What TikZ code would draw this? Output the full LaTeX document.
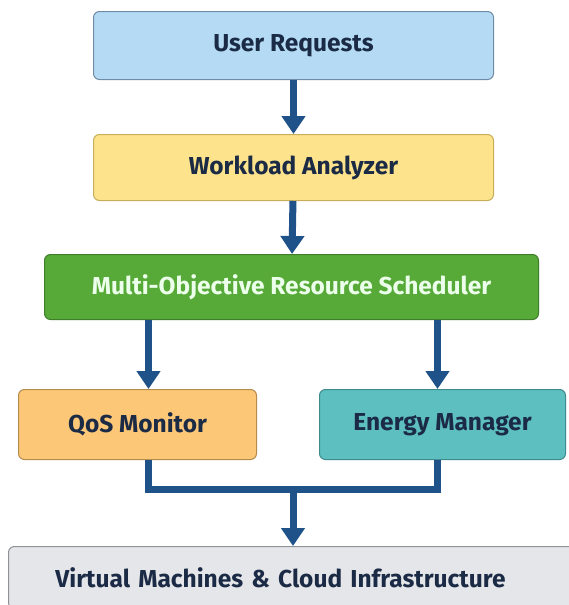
\documentclass[tikz,border=0pt]{standalone}
\usepackage{fontspec}
\setmainfont{Fira Sans}
\usetikzlibrary{arrows.meta,positioning}
\definecolor{ink}{HTML}{1B2B45}
\definecolor{flow}{HTML}{1F5288}
\definecolor{reqfill}{HTML}{B5DBF4}
\definecolor{reqline}{HTML}{6F8CA6}
\definecolor{wlfill}{HTML}{FDE38C}
\definecolor{wlline}{HTML}{C9AE5A}
\definecolor{schfill}{HTML}{58AA38}
\definecolor{schline}{HTML}{3E7D2A}
\definecolor{qosfill}{HTML}{FCC878}
\definecolor{qosline}{HTML}{B68B4E}
\definecolor{enfill}{HTML}{5EBFC0}
\definecolor{enline}{HTML}{3E8A8C}
\definecolor{vmfill}{HTML}{E5E6E9}
\definecolor{vmline}{HTML}{8E9197}
\tikzset{
  box/.style={draw, line width=1pt, rounded corners=6pt, inner sep=0pt,
    font=\fontsize{24.5}{28}\selectfont\bfseries, text=ink, anchor=north west},
  link/.style={draw=flow, line width=7pt},
  arr/.style={link, -{Triangle[width=23pt,length=18pt]}},
}
\begin{document}
\begin{tikzpicture}[x=1pt,y=1pt]
\useasboundingbox (0,-605) rectangle (569,0);
\clip (0,-605) rectangle (569,0);
\fill[white] (0,-605) rectangle (569,0);

\node[box, fill=reqfill, draw=reqline, minimum width=400pt, minimum height=68pt] (req) at (93,-11) {User Requests};
\node[box, fill=wlfill, draw=wlline, minimum width=400pt, minimum height=66pt] (wl) at (93,-134) {Workload Analyzer};
\node[box, fill=schfill, draw=schline, minimum width=494pt, minimum height=65pt, text=white!92!green] (sch) at (44,-254) {Multi-Objective Resource Scheduler};
\node[box, fill=qosfill, draw=qosline, minimum width=238pt, minimum height=70pt] (qos) at (18,-389) {QoS Monitor};
\node[box, fill=enfill, draw=enline, minimum width=246pt, minimum height=70pt] (en) at (319,-389) {Energy Manager};
\node[box, fill=vmfill, draw=vmline, minimum width=600pt, minimum height=62pt, text width=600pt, align=left] (vm) at (8,-546) {\hspace*{47pt}Virtual Machines \& Cloud Infrastructure};

\draw[arr] (req) -- (wl);
\draw[arr] (wl) -- (sch);
\draw[arr] ([xshift=11pt]qos.north |- sch.south) -- ([xshift=11pt]qos.north);
\draw[arr] ([xshift=-5pt]en.north |- sch.south) -- ([xshift=-5pt]en.north);

\coordinate (join) at (293,-489);
\draw[link] ([xshift=11pt]qos.south) |- (join) -| ([xshift=-5pt]en.south);
\draw[arr] ([yshift=3.5pt]join) -- (join |- vm.north);
\end{tikzpicture}
\end{document}
